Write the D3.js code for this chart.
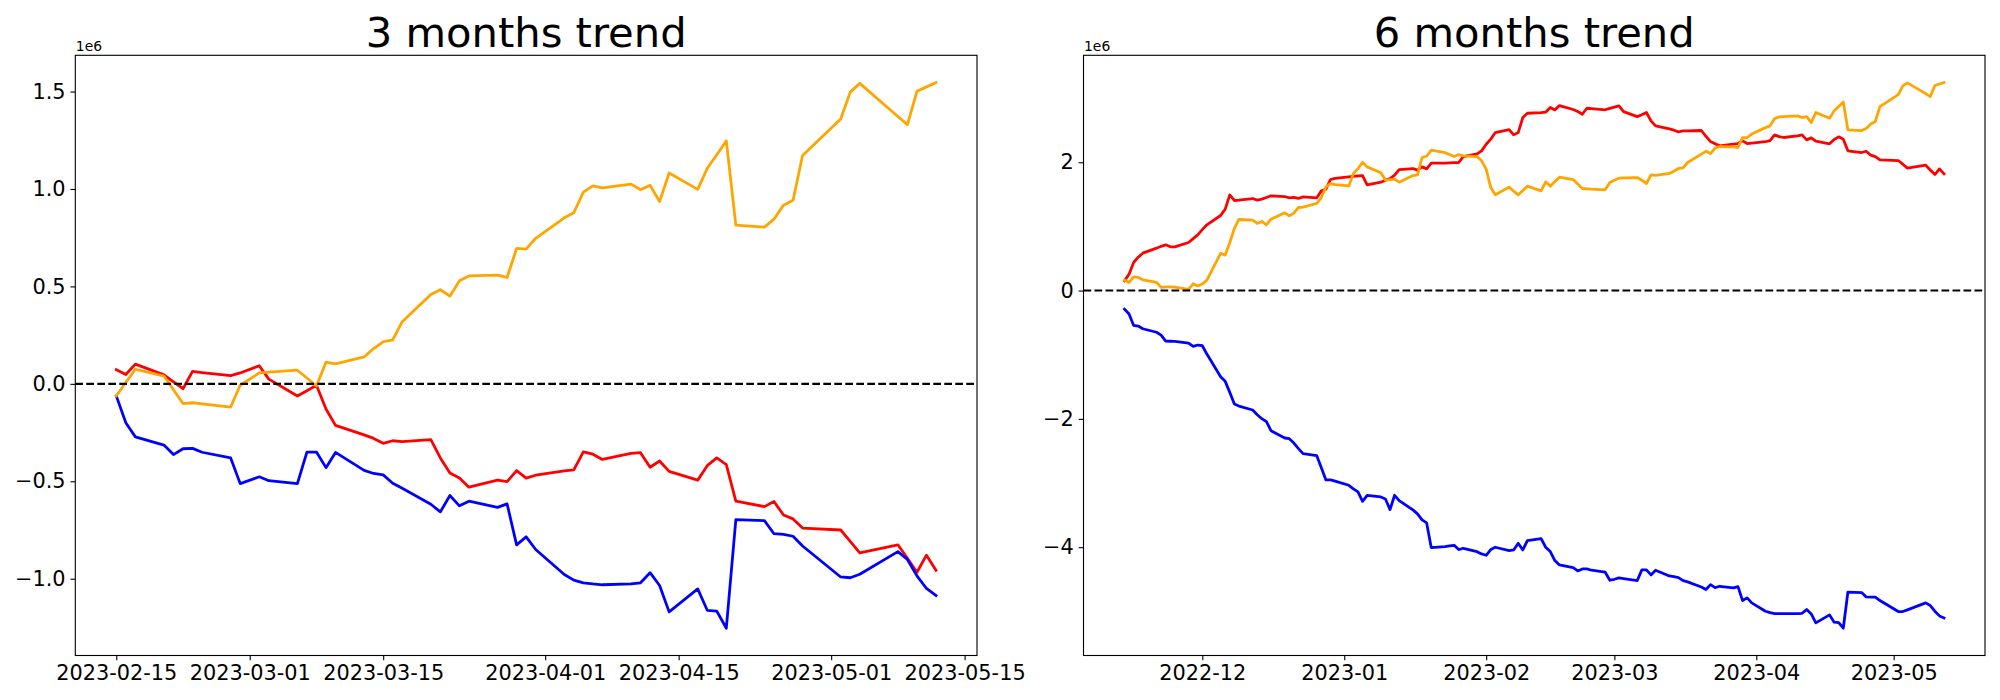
<!DOCTYPE html>
<html>
<head>
<meta charset="utf-8">
<script src="https://cdn.jsdelivr.net/npm/d3@7"></script>
<style>
  body { margin: 0; background: #fff; }
  text { font-family: "DejaVu Sans", sans-serif; fill: #000; }
</style>
</head>
<body>
<script>
// values are in units of 1e6 (offset text on the axes)
var UNIT = 1e6;

// ---- 3 months ----
var dates3m = [
  "2023-02-15","2023-02-16","2023-02-17","2023-02-20","2023-02-21","2023-02-22","2023-02-23","2023-02-24","2023-02-27","2023-02-28",
  "2023-03-02","2023-03-03","2023-03-06","2023-03-07","2023-03-08","2023-03-09","2023-03-10","2023-03-13","2023-03-14","2023-03-15",
  "2023-03-16","2023-03-17","2023-03-20","2023-03-21","2023-03-22","2023-03-23","2023-03-24","2023-03-27","2023-03-28","2023-03-29",
  "2023-03-30","2023-03-31","2023-04-03","2023-04-04","2023-04-05","2023-04-06","2023-04-07","2023-04-10","2023-04-11","2023-04-12",
  "2023-04-13","2023-04-14","2023-04-17","2023-04-18","2023-04-19","2023-04-20","2023-04-21","2023-04-24","2023-04-25","2023-04-26",
  "2023-04-27","2023-04-28","2023-05-02","2023-05-03","2023-05-04","2023-05-08","2023-05-09","2023-05-10","2023-05-11","2023-05-12"
];
var red3m = [
  0.073, 0.048, 0.101, 0.046, 0.010, -0.025, 0.064, 0.058, 0.042, 0.056,
  0.093, 0.024, -0.062, -0.035, -0.007, -0.129, -0.213, -0.262, -0.280, -0.305,
  -0.292, -0.296, -0.286, -0.380, -0.457, -0.483, -0.530, -0.494, -0.502, -0.445,
  -0.484, -0.469, -0.447, -0.441, -0.349, -0.361, -0.388, -0.357, -0.353, -0.428,
  -0.396, -0.449, -0.494, -0.420, -0.380, -0.414, -0.602, -0.630, -0.604, -0.673,
  -0.693, -0.740, -0.750, -0.808, -0.867, -0.826, -0.895, -0.967, -0.879, -0.957
];
var blue3m = [
  -0.062, -0.200, -0.272, -0.314, -0.363, -0.333, -0.331, -0.351, -0.380, -0.512,
  -0.477, -0.497, -0.512, -0.350, -0.350, -0.430, -0.352, -0.444, -0.460, -0.467,
  -0.510, -0.536, -0.618, -0.657, -0.573, -0.626, -0.602, -0.634, -0.616, -0.826,
  -0.785, -0.850, -0.978, -1.007, -1.021, -1.027, -1.031, -1.027, -1.021, -0.969,
  -1.035, -1.170, -1.052, -1.162, -1.166, -1.254, -0.697, -0.702, -0.769, -0.772,
  -0.782, -0.832, -0.991, -0.995, -0.977, -0.861, -0.901, -0.985, -1.050, -1.086
];
var orange3m = [
  -0.062, 0.007, 0.075, 0.040, -0.030, -0.101, -0.097, -0.103, -0.119, -0.007,
  0.056, 0.060, 0.070, 0.030, -0.011, 0.111, 0.103, 0.138, 0.181, 0.216,
  0.226, 0.319, 0.458, 0.483, 0.450, 0.529, 0.554, 0.558, 0.546, 0.695,
  0.691, 0.747, 0.852, 0.878, 0.984, 1.016, 1.006, 1.025, 0.996, 1.019,
  0.935, 1.082, 0.998, 1.106, 1.176, 1.247, 0.815, 0.804, 0.845, 0.917,
  0.942, 1.172, 1.359, 1.497, 1.542, 1.372, 1.330, 1.501, 1.524, 1.546
];
var xTicks3m = ["2023-02-15","2023-03-01","2023-03-15","2023-04-01","2023-04-15","2023-05-01","2023-05-15"];
var yTicks3m = [-1.0, -0.5, 0.0, 0.5, 1.0, 1.5];

// ---- 6 months ----
var dates6m = [
  "2022-11-14","2022-11-15","2022-11-16","2022-11-17","2022-11-18","2022-11-21","2022-11-22","2022-11-23","2022-11-24","2022-11-25",
  "2022-11-28","2022-11-29","2022-11-30",
  "2022-12-01","2022-12-02","2022-12-05","2022-12-06","2022-12-07","2022-12-08","2022-12-09","2022-12-12","2022-12-13","2022-12-14",
  "2022-12-15","2022-12-16","2022-12-19","2022-12-20","2022-12-21","2022-12-22","2022-12-23","2022-12-26","2022-12-27","2022-12-28",
  "2022-12-29","2022-12-30",
  "2023-01-02","2023-01-03","2023-01-04","2023-01-05","2023-01-06","2023-01-09","2023-01-10","2023-01-11","2023-01-12","2023-01-13",
  "2023-01-16","2023-01-17","2023-01-18","2023-01-19","2023-01-20","2023-01-23","2023-01-24","2023-01-25","2023-01-26","2023-01-27",
  "2023-01-30","2023-01-31",
  "2023-02-01","2023-02-02","2023-02-03","2023-02-06","2023-02-07","2023-02-08","2023-02-09","2023-02-10","2023-02-13","2023-02-14",
  "2023-02-15","2023-02-16","2023-02-17","2023-02-20","2023-02-21","2023-02-22","2023-02-23","2023-02-24","2023-02-27","2023-02-28",
  "2023-03-01","2023-03-02","2023-03-03","2023-03-06","2023-03-07","2023-03-08","2023-03-09","2023-03-10","2023-03-13","2023-03-14",
  "2023-03-15","2023-03-16","2023-03-17","2023-03-20","2023-03-21","2023-03-22","2023-03-23","2023-03-24","2023-03-27","2023-03-28",
  "2023-03-29","2023-03-30","2023-03-31",
  "2023-04-03","2023-04-04","2023-04-05","2023-04-06","2023-04-07","2023-04-10","2023-04-11","2023-04-12","2023-04-13","2023-04-14",
  "2023-04-17","2023-04-18","2023-04-19","2023-04-20","2023-04-21","2023-04-24","2023-04-25","2023-04-26","2023-04-27","2023-04-28",
  "2023-05-02","2023-05-03","2023-05-04","2023-05-08","2023-05-09","2023-05-10","2023-05-11","2023-05-12"
];
var red6m = [
  0.153, 0.256, 0.438, 0.520, 0.583, 0.661, 0.690, 0.713, 0.682, 0.682, 0.750, 0.810, 0.869,
  0.950, 1.025, 1.170, 1.269, 1.492, 1.404, 1.410, 1.435, 1.410, 1.425, 1.450, 1.477, 1.466, 1.446, 1.451, 1.436, 1.461, 1.446,
  1.554, 1.580, 1.731, 1.750,
  1.772, 1.780, 1.788, 1.793, 1.648, 1.689, 1.720, 1.746, 1.798, 1.886, 1.902, 1.877, 1.928, 1.897, 1.985, 1.988, 1.990, 1.993,
  1.996, 2.089, 2.131, 2.178,
  2.281, 2.360, 2.463, 2.510, 2.427, 2.463, 2.697, 2.764, 2.772, 2.780, 2.853, 2.816, 2.884, 2.822, 2.790, 2.749, 2.842, 2.835,
  2.818, 2.840,
  2.860, 2.879, 2.790, 2.712, 2.740, 2.775, 2.645, 2.567, 2.520, 2.500, 2.474, 2.489, 2.490, 2.495, 2.405, 2.323, 2.290, 2.256,
  2.282, 2.292, 2.333, 2.292, 2.300,
  2.320, 2.338, 2.427, 2.400, 2.386, 2.410, 2.427, 2.349, 2.380, 2.328, 2.287, 2.354, 2.396, 2.360, 2.178, 2.152, 2.172, 2.110,
  2.089, 2.038,
  2.027, 1.970, 1.908, 1.954, 1.880, 1.809, 1.897, 1.819
];
var blue6m = [
  -0.289, -0.366, -0.543, -0.553, -0.595, -0.650, -0.694, -0.787, -0.790, -0.792, -0.818, -0.870, -0.849,
  -0.860, -0.990, -1.343, -1.415, -1.587, -1.768, -1.800, -1.862, -1.935, -1.997, -2.044, -2.184, -2.298, -2.308, -2.376, -2.464,
  -2.542, -2.573, -2.760, -2.952, -2.952, -2.970,
  -3.035, -3.090, -3.139, -3.285, -3.191, -3.217, -3.248, -3.414, -3.191, -3.274, -3.419, -3.480, -3.575, -3.622, -4.006, -3.990,
  -3.980, -3.970, -4.037, -4.017, -4.070, -4.105,
  -4.126, -4.037, -4.001, -4.053, -4.043, -3.939, -4.043, -3.897, -3.866, -4.001, -4.069, -4.209, -4.276, -4.318, -4.370, -4.339,
  -4.339, -4.359, -4.390, -4.515,
  -4.500, -4.479, -4.490, -4.520, -4.354, -4.354, -4.432, -4.359, -4.448, -4.458, -4.473, -4.520, -4.541, -4.620, -4.660, -4.583,
  -4.629, -4.609, -4.635, -4.614, -4.832, -4.790, -4.868,
  -4.998, -5.020, -5.034, -5.034, -5.034, -5.034, -5.030, -4.972, -5.040, -5.180, -5.055, -5.169, -5.175, -5.263, -4.702, -4.707,
  -4.775, -4.778, -4.780, -4.832,
  -5.003, -5.003, -4.977, -4.868, -4.910, -4.998, -5.071, -5.102
];
var orange6m = [
  0.163, 0.127, 0.215, 0.205, 0.168, 0.127, 0.049, 0.059, 0.056, 0.054, 0.018, 0.106, 0.070,
  0.101, 0.163, 0.579, 0.553, 0.750, 0.968, 1.108, 1.098, 1.046, 1.077, 1.025, 1.113, 1.212, 1.165, 1.207, 1.295, 1.300, 1.357,
  1.450, 1.617, 1.667, 1.650,
  1.631, 1.823, 1.901, 2.000, 1.928, 1.835, 1.721, 1.730, 1.736, 1.690, 1.793, 1.804, 2.074, 2.094, 2.188, 2.150, 2.120, 2.089,
  2.120, 2.100, 2.089, 2.022,
  1.892, 1.606, 1.493, 1.612, 1.550, 1.493, 1.560, 1.627, 1.555, 1.695, 1.627, 1.700, 1.768, 1.731, 1.660, 1.591, 1.585, 1.580,
  1.570, 1.684,
  1.720, 1.752, 1.755, 1.762, 1.720, 1.669, 1.804, 1.794, 1.825, 1.860, 1.903, 1.913, 1.996, 2.126, 2.170, 2.136, 2.220, 2.245,
  2.240, 2.230, 2.385, 2.385, 2.440,
  2.540, 2.567, 2.681, 2.707, 2.710, 2.723, 2.697, 2.712, 2.619, 2.775, 2.687, 2.801, 2.870, 2.941, 2.505, 2.494, 2.526, 2.598,
  2.635, 2.868,
  3.055, 3.190, 3.237, 3.070, 3.024, 3.196, 3.220, 3.242
];
var xTicks6m = ["2022-12-01","2023-01-01","2023-02-01","2023-03-01","2023-04-01","2023-05-01"];
var yTicks6m = [-4, -2, 0, 2];

var parseDate = d3.utcParse('%Y-%m-%d');

var svg = d3.select('body')
    .append('svg')
    .attr('width', 2000)
    .attr('height', 700);

svg.append('rect')
    .attr('width', 2000)
    .attr('height', 700)
    .attr('fill', '#fff');

// axes boxes (matplotlib 20x7in @100dpi, tight layout)
var axTop = 55.3, axHeight = 600.2;

function drawPanel(p) {
  var width = p.width, height = axHeight;
  var dates = p.dates.map(parseDate);
  var t0 = dates[0], t1 = dates[dates.length - 1], span = t1 - t0;

  var x = d3.scaleUtc()
      .domain([new Date(+t0 - 0.05 * span), new Date(+t1 + 0.05 * span)])
      .range([0, width]);

  var all = d3.merge(p.series.map(function(s) { return s.values; }));
  var lo = d3.min(all), hi = d3.max(all), pad = (hi - lo) * 0.05;
  var y = d3.scaleLinear()
      .domain([(lo - pad) * UNIT, (hi + pad) * UNIT])
      .range([height, 0]);

  var g = svg.append('g')
      .attr('transform', 'translate(' + p.left + ',' + axTop + ')');

  var line = d3.line()
      .x(function(d, i) { return x(dates[i]); })
      .y(function(d) { return y(d * UNIT); });

  p.series.forEach(function(s) {
    g.append('path')
        .datum(s.values)
        .attr('d', line)
        .attr('fill', 'none')
        .attr('stroke', s.color)
        .attr('stroke-width', 2.78)
        .attr('stroke-linejoin', 'round')
        .attr('stroke-linecap', 'square');
  });

  g.append('line')
      .attr('x1', 0)
      .attr('x2', width)
      .attr('y1', y(0))
      .attr('y2', y(0))
      .attr('stroke', '#000')
      .attr('stroke-width', 2.08)
      .attr('stroke-dasharray', '7.7,3.3');

  var xAxis = d3.axisBottom(x)
      .tickValues(p.xTicks.map(parseDate))
      .tickFormat(d3.utcFormat(p.xFormat))
      .tickSize(4.86)
      .tickPadding(4.86);

  var yAxis = d3.axisLeft(y)
      .tickValues(p.yTicks.map(function(v) { return v * UNIT; }))
      .tickFormat(function(v) { return d3.format(p.yFormat)(v / UNIT); })
      .tickSize(4.86)
      .tickPadding(4.86);

  [g.append('g').attr('transform', 'translate(0,' + height + ')').call(xAxis),
   g.append('g').call(yAxis)].forEach(function(a) {
    a.select('.domain').remove();
    a.selectAll('line').attr('stroke', '#000').attr('stroke-width', 1.11);
    a.selectAll('text')
        .attr('fill', '#000')
        .style('font-family', '"DejaVu Sans", sans-serif')
        .style('font-size', '20.83px');
  });

  g.append('rect')
      .attr('width', width)
      .attr('height', height)
      .attr('fill', 'none')
      .attr('stroke', '#000')
      .attr('stroke-width', 1.11);

  g.append('text')
      .attr('x', 0.5)
      .attr('y', -4.5)
      .style('font-size', '13.9px')
      .text('1e6');

  g.append('text')
      .attr('x', width / 2)
      .attr('y', -8.3)
      .style('text-anchor', 'middle')
      .style('font-size', '41.67px')
      .text(p.title);
}

drawPanel({
  title: '3 months trend',
  left: 75.3, width: 901.7,
  dates: dates3m,
  series: [
    { values: red3m, color: 'red' },
    { values: blue3m, color: 'blue' },
    { values: orange3m, color: 'orange' }
  ],
  xTicks: xTicks3m, xFormat: '%Y-%m-%d',
  yTicks: yTicks3m, yFormat: '.1f'
});

drawPanel({
  title: '6 months trend',
  left: 1083.5, width: 901.5,
  dates: dates6m,
  series: [
    { values: red6m, color: 'red' },
    { values: blue6m, color: 'blue' },
    { values: orange6m, color: 'orange' }
  ],
  xTicks: xTicks6m, xFormat: '%Y-%m',
  yTicks: yTicks6m, yFormat: '.0f'
});
</script>
</body>
</html>
